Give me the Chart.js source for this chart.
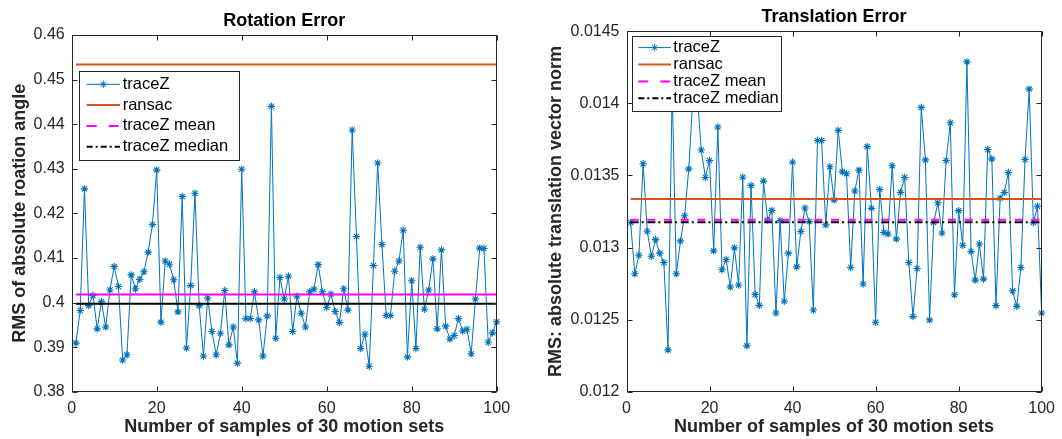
<!DOCTYPE html>
<html>
<head>
<meta charset="utf-8">
<script src="https://cdn.jsdelivr.net/npm/chart.js@4/dist/chart.umd.min.js"></script>
<style>
  html, body { margin: 0; padding: 0; background: #ffffff; }
  #wrap { position: relative; width: 1062px; height: 439px; overflow: hidden; }
  .panel { position: absolute; top: 0; width: 531px; height: 439px; }
</style>
</head>
<body>
<div id="wrap">
  <div class="panel" style="left:0"><canvas id="rotation" width="531" height="439"></canvas></div>
  <div class="panel" style="left:531px"><canvas id="translation" width="531" height="439"></canvas></div>
</div>
<script>
// Sample number (1..100) of each run of 30 motion sets
const sampleNumbers = Array.from({ length: 100 }, (_, i) => i + 1);

// RMS of the absolute rotation angle per sample
const rotationTraceZ = [
  0.3909, 0.3982, 0.4255, 0.3993, 0.4016, 0.3941, 0.4002, 0.3945, 0.4028, 0.4081,
  0.4036, 0.3871, 0.3883, 0.4062, 0.4031, 0.4052, 0.4069, 0.4113, 0.4175, 0.4297,
  0.3956, 0.4093, 0.4086, 0.4051, 0.3979, 0.4238, 0.3898, 0.4038, 0.4245, 0.3993,
  0.3880, 0.4010, 0.3935, 0.3883, 0.3931, 0.4027, 0.3905, 0.3945, 0.3864, 0.4299,
  0.3964, 0.3964, 0.4024, 0.3961, 0.3880, 0.3970, 0.4440, 0.3920, 0.4056, 0.4008,
  0.4059, 0.3935, 0.4014, 0.3976, 0.3945, 0.4024, 0.4030, 0.4085, 0.4024, 0.3989,
  0.4019, 0.3980, 0.3955, 0.4031, 0.3983, 0.4387, 0.4148, 0.3897, 0.3929, 0.3857,
  0.4083, 0.4313, 0.4130, 0.3971, 0.3971, 0.4070, 0.4093, 0.4162, 0.3878, 0.4049,
  0.3897, 0.4124, 0.3985, 0.4028, 0.4098, 0.3941, 0.4118, 0.3947, 0.3918, 0.3926,
  0.3964, 0.3936, 0.3940, 0.3885, 0.4008, 0.4122, 0.4121, 0.3911, 0.3932, 0.3957
];
const rotationRansac = 0.4534;
const rotationMean = 0.4018;
const rotationMedian = 0.3997;

// RMS of the absolute translation vector norm per sample
const translationTraceZ = [
  0.013173, 0.012818, 0.012947, 0.013581, 0.013113, 0.012940, 0.013055, 0.012961, 0.012896, 0.012290,
  0.014100, 0.012818, 0.013046, 0.013221, 0.013544, 0.014050, 0.014080, 0.013677, 0.013486, 0.013604,
  0.012977, 0.013836, 0.012846, 0.012917, 0.012726, 0.012998, 0.012740, 0.013488, 0.012318, 0.013431,
  0.012675, 0.012599, 0.013461, 0.013191, 0.013258, 0.012546, 0.013187, 0.012627, 0.012961, 0.013592,
  0.012866, 0.013111, 0.013274, 0.013180, 0.012567, 0.013742, 0.013742, 0.013157, 0.013560, 0.013329,
  0.013813, 0.013525, 0.013512, 0.012862, 0.013392, 0.013537, 0.012747, 0.013700, 0.013272, 0.012482,
  0.013403, 0.013104, 0.013094, 0.013567, 0.013060, 0.013382, 0.013486, 0.012896, 0.012521, 0.012855,
  0.013972, 0.013608, 0.012498, 0.013173, 0.013311, 0.013101, 0.013604, 0.013866, 0.012673, 0.013256,
  0.013016, 0.014288, 0.012972, 0.012774, 0.013025, 0.012781, 0.013680, 0.013615, 0.012597, 0.013343,
  0.013382, 0.013521, 0.012700, 0.012592, 0.012862, 0.013611, 0.014099, 0.013173, 0.013286, 0.012546
];
const translationRansac = 0.013336;
const translationMean = 0.013193;
const translationMedian = 0.013175;

// Axis ticks
const sampleTicks = [0, 20, 40, 60, 80, 100];
const rotationTicks = [0.38, 0.39, 0.40, 0.41, 0.42, 0.43, 0.44, 0.45, 0.46];
const translationTicks = [0.012, 0.0125, 0.013, 0.0135, 0.014, 0.0145];

const seriesLabels = ['traceZ', 'ransac', 'traceZ mean', 'traceZ median'];

const BLUE = '#0072BD';
const ORANGE = '#D95319';
const MAGENTA = '#FF00FF';
const BLACK = '#000000';
const AXIS = '#262626';
const FONT = '"Liberation Sans", Arial, Helvetica, sans-serif';

function fmtTick(v) {
  return String(Number(v.toFixed(6)));
}

// Axes box with inward tick marks, an opaque legend box and a title centred on the axes
const axesFrame = {
  id: 'axesFrame',
  afterDatasetsDraw(chart, args, opts) {
    const { ctx, chartArea: a, scales: { x, y } } = chart;
    const L = Math.round(a.left) + 0.5, R = Math.round(a.right) - 0.5;
    const T = Math.round(a.top) + 0.5, B = Math.round(a.bottom) - 0.5;
    ctx.save();
    ctx.strokeStyle = AXIS;
    ctx.lineWidth = 1;
    ctx.beginPath();
    x.ticks.forEach(t => {
      const px = Math.round(x.getPixelForValue(t.value)) + 0.5;
      ctx.moveTo(px, B); ctx.lineTo(px, B - 5);
      ctx.moveTo(px, T); ctx.lineTo(px, T + 5);
    });
    y.ticks.forEach(t => {
      const py = Math.round(y.getPixelForValue(t.value)) + 0.5;
      ctx.moveTo(L, py); ctx.lineTo(L + 5, py);
      ctx.moveTo(R, py); ctx.lineTo(R - 5, py);
    });
    ctx.stroke();
    ctx.strokeRect(L, T, R - L, B - T);

    // title
    ctx.fillStyle = '#000000';
    ctx.font = 'bold 18px ' + FONT;
    ctx.textAlign = 'center';
    ctx.textBaseline = 'middle';
    ctx.fillText(opts.title, (a.left + a.right) / 2, opts.titleY);

    // legend
    const lg = opts.legend;
    ctx.fillStyle = '#ffffff';
    ctx.fillRect(lg.x, lg.y, lg.w, lg.h);
    ctx.strokeStyle = AXIS;
    ctx.lineWidth = 1;
    ctx.strokeRect(Math.round(lg.x) + 0.5, Math.round(lg.y) + 0.5, Math.round(lg.w), Math.round(lg.h));
    ctx.font = '16.5px ' + FONT;
    ctx.textBaseline = 'middle';
    ctx.textAlign = 'left';
    chart.data.datasets.forEach((ds, i) => {
      const rowY = lg.firstRow + i * lg.rowGap;
      ctx.save();
      ctx.strokeStyle = ds.borderColor;
      ctx.lineWidth = ds.borderWidth;
      ctx.setLineDash(lg.dashes[i]);
      ctx.beginPath();
      ctx.moveTo(lg.sx0, rowY);
      ctx.lineTo(lg.sx1, rowY);
      ctx.stroke();
      ctx.restore();
      if (ds.pointStyle === 'star') {
        ctx.save();
        ctx.strokeStyle = ds.borderColor;
        ctx.fillStyle = ds.borderColor;
        Chart.helpers.drawPoint(ctx, { pointStyle: 'star', radius: ds.pointRadius, rotation: 0, borderWidth: 1 },
          (lg.sx0 + lg.sx1) / 2, rowY);
        ctx.restore();
      }
      ctx.fillStyle = '#000000';
      ctx.fillText(ds.label, lg.tx, rowY);
    });
    ctx.restore();
  }
};

function flatLine(value) {
  return [{ x: 1, y: value }, { x: 100, y: value }];
}

function buildChart(canvasId, p) {
  const datasets = [
    {
      label: seriesLabels[0],
      data: sampleNumbers.map((n, i) => ({ x: n, y: p.trace[i] })),
      borderColor: BLUE,
      backgroundColor: BLUE,
      borderWidth: 1,
      pointStyle: 'star',
      pointRadius: 3.7,
      pointBorderWidth: 1.1,
      pointBorderColor: BLUE,
      pointBackgroundColor: BLUE,
      tension: 0,
      clip: false,
      order: 4
    },
    {
      label: seriesLabels[1],
      data: flatLine(p.ransac),
      borderColor: ORANGE,
      borderWidth: 2,
      pointRadius: 0,
      order: 3
    },
    {
      label: seriesLabels[2],
      data: flatLine(p.mean),
      borderColor: MAGENTA,
      borderWidth: 2,
      borderDash: p.meanDash,
      pointRadius: 0,
      order: 2
    },
    {
      label: seriesLabels[3],
      data: flatLine(p.median),
      borderColor: BLACK,
      borderWidth: 2,
      borderDash: p.medianDash,
      pointRadius: 0,
      order: 1
    }
  ];

  return new Chart(document.getElementById(canvasId), {
    type: 'line',
    data: { datasets },
    options: {
      responsive: false,
      animation: false,
      events: [],
      layout: { padding: { left: 0, right: p.padRight, top: p.padTop, bottom: 0 } },
      plugins: {
        legend: { display: false },
        tooltip: { enabled: false },
        title: { display: false },
        axesFrame: { legend: p.legend, title: p.title, titleY: p.titleY }
      },
      scales: {
        x: {
          type: 'linear',
          min: 0,
          max: 100,
          afterBuildTicks: s => { s.ticks = sampleTicks.map(v => ({ value: v })); },
          afterFit: s => { s.height = p.xHeight; },
          grid: { display: false, drawTicks: false },
          border: { display: false },
          ticks: {
            color: AXIS,
            padding: p.xTickPad,
            maxRotation: 0,
            font: { family: FONT, size: 16 },
            callback: v => fmtTick(v)
          },
          title: {
            display: true,
            text: 'Number of samples of 30 motion sets',
            color: AXIS,
            font: { family: FONT, size: 18, weight: 'bold' },
            padding: { top: 0, bottom: p.xTitlePad }
          }
        },
        y: {
          type: 'linear',
          min: p.yTicks[0],
          max: p.yTicks[p.yTicks.length - 1],
          afterBuildTicks: s => { s.ticks = p.yTicks.map(v => ({ value: v })); },
          afterFit: s => { s.width = p.yWidth; },
          grid: { display: false, drawTicks: false },
          border: { display: false },
          ticks: {
            color: AXIS,
            padding: 7,
            font: { family: FONT, size: 16 },
            callback: v => fmtTick(v)
          },
          title: {
            display: true,
            text: p.yTitle,
            color: AXIS,
            font: { family: FONT, size: 18, weight: 'bold' },
            padding: { top: p.yTitlePad, bottom: 0 }
          }
        }
      }
    },
    plugins: [axesFrame]
  });
}

buildChart('rotation', {
  title: 'Rotation Error',
  titleY: 21,
  yTitle: 'RMS of absolute roation angle',
  trace: rotationTraceZ,
  ransac: rotationRansac,
  mean: rotationMean,
  median: rotationMedian,
  meanDash: [],
  medianDash: [],
  yTicks: rotationTicks,
  padRight: 34.3,
  padTop: 35,
  xHeight: 47.3,
  yWidth: 71.7,
  xTickPad: 7,
  xTitlePad: 1.5,
  yTitlePad: 8.9,
  legend: {
    x: 79.3, y: 70.7, w: 160, h: 89.3,
    firstRow: 84.3, rowGap: 20.8,
    sx0: 86.7, sx1: 120, tx: 122.7,
    dashes: [[], [], [10, 12], [6, 3, 2, 3]]
  }
});

buildChart('translation', {
  title: 'Translation Error',
  titleY: 17,
  yTitle: 'RMS: absolute translation vector norm',
  trace: translationTraceZ,
  ransac: translationRansac,
  mean: translationMean,
  median: translationMedian,
  meanDash: [8, 8.7],
  medianDash: [8, 3, 2, 3.7],
  yTicks: translationTicks,
  padRight: 16.5,
  padTop: 31.3,
  xHeight: 47.3,
  yWidth: 95.5,
  xTickPad: 7,
  xTitlePad: 1.5,
  yTitlePad: 13.9,
  legend: {
    x: 101.3, y: 36, w: 149.4, h: 75,
    firstRow: 47.6, rowGap: 16.9,
    sx0: 107.3, sx1: 140, tx: 142.3,
    dashes: [[], [], [10, 12], [6, 3, 2, 3]]
  }
});
</script>
</body>
</html>
